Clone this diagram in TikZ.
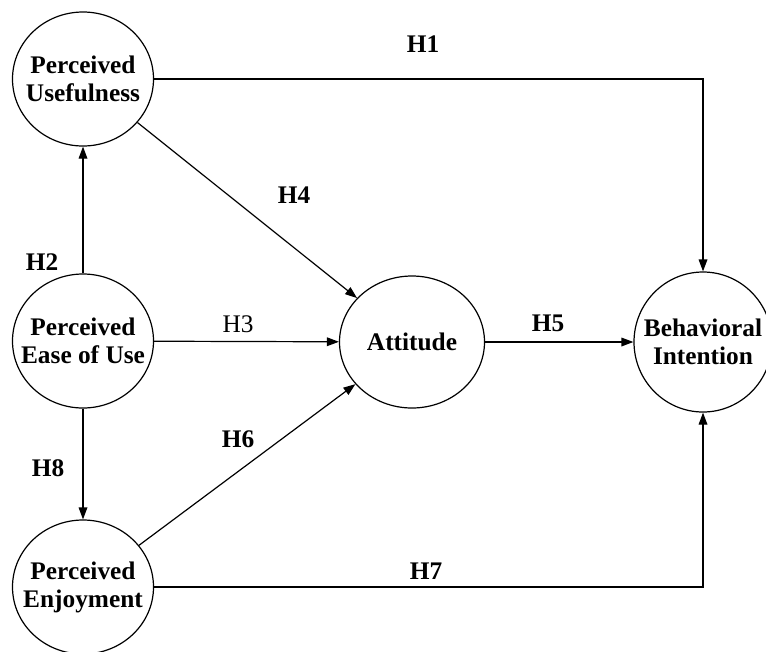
\documentclass[tikz,border=0pt]{standalone}
\usepackage{fontspec}
\setmainfont{Liberation Serif}
\usetikzlibrary{arrows.meta,shapes.geometric}
\tikzset{every picture/.style={line width=0.9pt}}

\begin{document}
\begin{tikzpicture}[x=0.75pt,y=0.75pt,yscale=-1,xscale=1,
	construct/.style={draw,ellipse,minimum width=105.75pt,minimum height=100.5pt,inner xsep=-14pt,inner ysep=-8pt,align=center,font=\fontsize{19}{21}\selectfont\bfseries},
	hyp/.style={-{Triangle[length=9pt,width=6.5pt]}},
	hlabel/.style={inner sep=0pt,font=\fontsize{19}{21}\selectfont\bfseries}]
	\useasboundingbox (0,0) rectangle (766,651);
	
	%Constructs
	\node [construct] (pu) at (83,79) {Perceived\\Usefulness};
	\node [construct] (peou) at (83,341) {Perceived\\Ease of Use};
	\node [construct] (pe) at (83,587) {Perceived\\Enjoyment};
	\node [construct,minimum width=108.75pt,minimum height=99pt] (att) at (412,342) {Attitude};
	\node [construct,minimum width=103.5pt,minimum height=105pt] (bi) at (703,342) {Behavioral\\Intention};
	
	%Paths
	\draw [hyp] (pu.east) -| (bi.north);
	\draw [hyp] (peou) -- (pu);
	\draw [hyp] (peou) -- (att);
	\draw [hyp] (pu) -- (att);
	\draw [hyp] (att) -- (bi);
	\draw [hyp] (pe) -- (att);
	\draw [hyp] (pe.east) -| (bi.south);
	\draw [hyp] (peou) -- (pe);
	
	\node [hlabel] (h1) at (423,44) {H1};
	\node [hlabel] (h2) at (42,262) {H2};
	\node [hlabel,font=\fontsize{19}{21}\selectfont] (h3) at (238,324) {H3};
	\node [hlabel] (h4) at (294,195) {H4};
	\node [hlabel] (h5) at (548,323) {H5};
	\node [hlabel] (h6) at (238,439) {H6};
	\node [hlabel] (h7) at (426,571) {H7};
	\node [hlabel] (h8) at (48,468) {H8};
	
\end{tikzpicture}
\end{document}
